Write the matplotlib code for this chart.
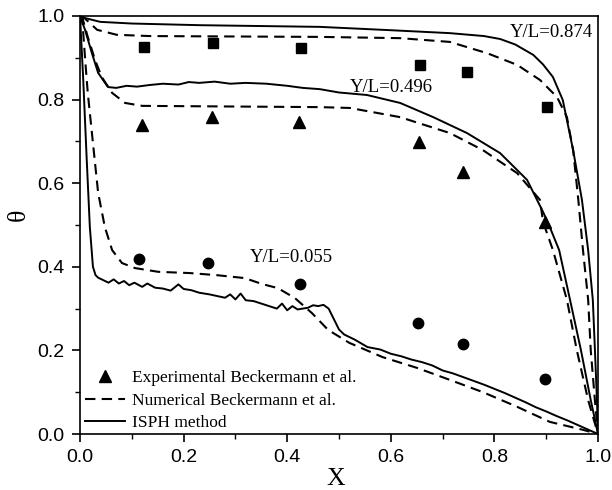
import matplotlib
matplotlib.use('Agg')
import matplotlib.pyplot as plt
from matplotlib.ticker import MultipleLocator

# experimental points (Beckermann et al.)
exp_x_874 = [0.124, 0.257, 0.427, 0.656, 0.747, 0.902]
exp_t_874 = [0.926, 0.935, 0.923, 0.883, 0.866, 0.782]
exp_x_496 = [0.120, 0.255, 0.423, 0.654, 0.739, 0.898]
exp_t_496 = [0.739, 0.758, 0.746, 0.699, 0.627, 0.507]
exp_x_055 = [0.114, 0.247, 0.425, 0.653, 0.739, 0.898]
exp_t_055 = [0.419, 0.409, 0.359, 0.266, 0.215, 0.132]

# numerical Beckermann et al. (dashed)
num_x_874 = [0, 0.006, 0.033, 0.071, 0.135, 0.463, 0.618, 0.714, 0.786, 0.844,
             0.888, 0.921, 0.940, 0.952, 0.962, 0.971, 0.981, 0.986, 0.994, 1.0]
num_t_874 = [1.0, 0.998, 0.967, 0.955, 0.952, 0.950, 0.947, 0.938, 0.911, 0.883,
             0.847, 0.806, 0.758, 0.679, 0.560, 0.440, 0.321, 0.200, 0.081, 0.0]
num_x_496 = [0, 0.004, 0.015, 0.029, 0.042, 0.062, 0.087, 0.120, 0.463, 0.521,
             0.618, 0.714, 0.778, 0.844, 0.888, 0.894, 0.913, 0.940, 0.959, 0.981, 1.0]
num_t_496 = [1.0, 0.998, 0.950, 0.895, 0.854, 0.816, 0.792, 0.785, 0.782, 0.780,
             0.758, 0.720, 0.679, 0.624, 0.560, 0.507, 0.440, 0.321, 0.201, 0.081, 0.0]
num_x_055 = [0, 0.004, 0.010, 0.015, 0.025, 0.035, 0.048, 0.062, 0.081, 0.106,
             0.151, 0.212, 0.264, 0.318, 0.351, 0.382, 0.415, 0.448, 0.479, 0.520,
             0.584, 0.651, 0.715, 0.778, 0.844, 0.907, 0.971, 1.0]
num_t_055 = [1.0, 0.998, 0.895, 0.816, 0.696, 0.577, 0.495, 0.440, 0.409, 0.397,
             0.388, 0.385, 0.380, 0.373, 0.359, 0.349, 0.325, 0.289, 0.249, 0.218,
             0.184, 0.158, 0.129, 0.100, 0.065, 0.029, 0.010, 0.0]

# ISPH method (solid)
isph_x_874 = [0, 0.010, 0.039, 0.10, 0.232, 0.463, 0.60, 0.714, 0.780, 0.811,
              0.840, 0.875, 0.894, 0.913, 0.932, 0.952, 0.969, 0.981, 0.990,
              0.994, 0.998, 1.0]
isph_t_874 = [1.0, 0.995, 0.986, 0.982, 0.978, 0.974, 0.966, 0.959, 0.952, 0.945,
              0.932, 0.907, 0.884, 0.854, 0.799, 0.679, 0.560, 0.440, 0.321,
              0.203, 0.081, 0.0]
isph_x_496 = [0, 0.0097, 0.023, 0.035, 0.054, 0.07, 0.09, 0.11, 0.135, 0.16,
              0.19, 0.21, 0.23, 0.26, 0.29, 0.32, 0.36, 0.40, 0.43, 0.463, 0.50,
              0.554, 0.618, 0.682, 0.747, 0.811, 0.863, 0.894, 0.903, 0.925, 0.946,
              0.967, 0.986, 1.0]
isph_t_496 = [1.0, 0.967, 0.911, 0.864, 0.830, 0.828, 0.833, 0.831, 0.835, 0.838,
              0.836, 0.842, 0.840, 0.843, 0.838, 0.840, 0.838, 0.833, 0.828, 0.825, 0.817,
              0.811, 0.792, 0.758, 0.720, 0.672, 0.608, 0.531, 0.507, 0.440, 0.321,
              0.201, 0.081, 0.0]
isph_x_055 = [0, 0.006, 0.013, 0.019, 0.025, 0.030, 0.035, 0.045, 0.055, 0.065,
              0.075, 0.085, 0.095, 0.105, 0.12, 0.13, 0.145, 0.16, 0.175, 0.185,
              0.19, 0.20, 0.215, 0.23, 0.25, 0.265, 0.28, 0.29, 0.30, 0.31,
              0.32, 0.335, 0.35, 0.365, 0.38, 0.39, 0.40, 0.41, 0.42, 0.43,
              0.44, 0.45, 0.46, 0.47, 0.48, 0.49, 0.50, 0.51, 0.53, 0.555,
              0.58, 0.60, 0.62, 0.64, 0.66, 0.68, 0.70, 0.72, 0.74, 0.76,
              0.78, 0.80, 0.82, 0.84, 0.86, 0.88, 0.90, 0.92, 0.94, 0.96, 0.98, 1.0]
isph_t_055 = [1.0, 0.854, 0.656, 0.495, 0.400, 0.380, 0.374, 0.368, 0.362, 0.370,
              0.360, 0.366, 0.356, 0.362, 0.352, 0.360, 0.350, 0.348, 0.343, 0.353,
              0.358, 0.347, 0.344, 0.338, 0.334, 0.330, 0.326, 0.334, 0.322, 0.336,
              0.320, 0.318, 0.312, 0.306, 0.300, 0.312, 0.296, 0.306, 0.298, 0.300,
              0.302, 0.308, 0.306, 0.309, 0.300, 0.275, 0.250, 0.238, 0.226, 0.208,
              0.202, 0.192, 0.186, 0.178, 0.172, 0.164, 0.152, 0.145, 0.136, 0.127,
              0.118, 0.108, 0.098, 0.087, 0.076, 0.064, 0.054, 0.043, 0.033, 0.022, 0.011, 0.0]

serif = 'Liberation Serif'
sans = 'Liberation Sans'

fig = plt.figure(figsize=(6.12, 4.90), dpi=100)
ax = fig.add_axes([80 / 612, 56 / 490, 518 / 612, 418 / 490])

dash = (0, (5, 3))
ax.plot(num_x_874, num_t_874, color='black', lw=1.5, linestyle=dash)
ax.plot(num_x_496, num_t_496, color='black', lw=1.5, linestyle=dash)
ax.plot(num_x_055, num_t_055, color='black', lw=1.5, linestyle=dash,
        label='Numerical Beckermann et al.')
ax.plot(isph_x_874, isph_t_874, color='black', lw=1.4)
ax.plot(isph_x_496, isph_t_496, color='black', lw=1.4)
ax.plot(isph_x_055, isph_t_055, color='black', lw=1.4, label='ISPH method')

ax.plot(exp_x_874, exp_t_874, 's', color='black', ms=6.5, clip_on=False)
ax.plot(exp_x_496, exp_t_496, '^', color='black', ms=8, clip_on=False,
        label='Experimental Beckermann et al.')
ax.plot(exp_x_055, exp_t_055, 'o', color='black', ms=7.5, clip_on=False)

ax.text(0.990, 0.960, 'Y/L=0.874', family=serif, fontsize=13.5, ha='right', va='center')
ax.text(0.521, 0.830, 'Y/L=0.496', family=serif, fontsize=13.5, ha='left', va='center')
ax.text(0.328, 0.423, 'Y/L=0.055', family=serif, fontsize=13.5, ha='left', va='center')

ax.set_xlim(0, 1)
ax.set_ylim(0, 1)
ax.xaxis.set_major_locator(MultipleLocator(0.2))
ax.xaxis.set_minor_locator(MultipleLocator(0.1))
ax.yaxis.set_major_locator(MultipleLocator(0.2))
ax.yaxis.set_minor_locator(MultipleLocator(0.1))
ax.tick_params(which='major', direction='out', length=6, width=1.2, pad=5)
ax.tick_params(which='minor', direction='out', length=3.5, width=1.0)
for lab in ax.get_xticklabels() + ax.get_yticklabels():
    lab.set_family(sans)
    lab.set_fontsize(14)
for sp in ax.spines.values():
    sp.set_linewidth(1.2)

ax.set_xlabel('X', family=serif, fontsize=18.5)
ax.set_ylabel('θ', family=serif, fontsize=18.5)
ax.xaxis.set_label_coords(0.494, -0.081)
ax.yaxis.set_label_coords(-0.0965, 0.524)

handles, labels = ax.get_legend_handles_labels()
order = [2, 0, 1]
ax.legend([handles[i] for i in order], [labels[i] for i in order],
          loc='lower left', bbox_to_anchor=(0.005, 0.0), frameon=False,
          prop={'family': serif, 'size': 12.5}, handlelength=2.3,
          handletextpad=0.4, labelspacing=0.37, borderaxespad=0.0,
          borderpad=0.15)

fig.savefig('out.png', dpi=100)
